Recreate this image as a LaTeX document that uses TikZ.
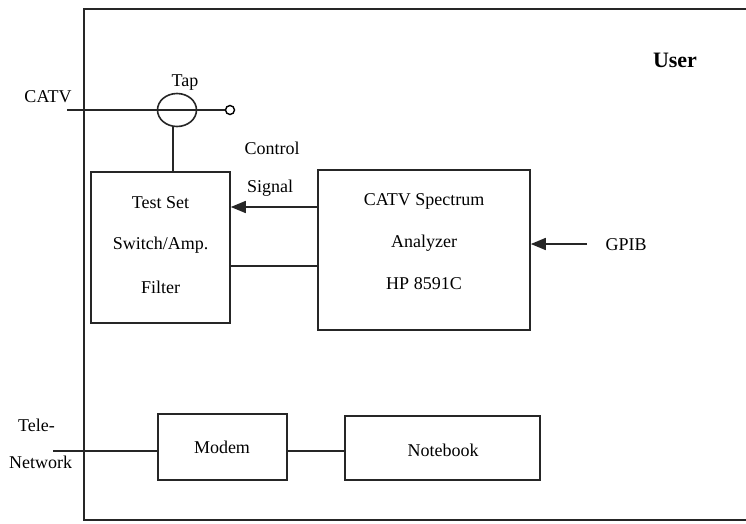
\documentclass[tikz,border=0pt]{standalone}
\usepackage{fontspec}
\setmainfont{Liberation Serif}
\usetikzlibrary{arrows.meta,shapes.geometric}
\begin{document}
\begin{tikzpicture}[x=1pt,y=-1pt,
  line/.style={line width=1.6pt,black!85},
  blockbox/.style={draw,line width=1.6pt,black!85,rectangle,inner sep=0pt},
  lbl/.style={font=\fontsize{18}{20}\selectfont,inner sep=0pt},
  arr/.style={line/.try,-{Triangle[length=15pt,width=12pt]}}]
\useasboundingbox (0,0) rectangle (746,523);
% frame
\draw[line] (746,9) -- (84,9) -- (84,520) -- (746,520);
% tap
\node[draw,line width=1.6pt,black!85,ellipse,minimum width=39pt,minimum height=33pt,inner sep=0pt] (tap) at (177,110) {};
\node[draw,line width=1.4pt,circle,minimum size=9pt,inner sep=0pt,fill=white] (term) at (230,110) {};
\coordinate (catvin) at (67,110);
\draw[line] (catvin) -- (term.west);
\node[lbl] (catv) at (48,97) {CATV};
\node[lbl] (taplbl) at (185,83) {Tap};
% boxes
\node[blockbox,minimum width=139pt,minimum height=151pt] (test) at (160.5,247.5) {};
\node[lbl] (t1) at (160.5,203) {Test Set};
\node[lbl] (t2) at (160.5,245) {Switch/Amp.};
\node[lbl] (t3) at (160.5,287) {Filter};
\node[blockbox,minimum width=212pt,minimum height=160pt] (sa) at (424,250) {};
\node[lbl] (s1) at (424,201) {CATV Spectrum};
\node[lbl] (s2) at (424,243) {Analyzer};
\node[lbl] (s3) at (424,284) {HP 8591C};
\coordinate (tb) at (173,126);
\draw[line] (tb) -- (test.north -| tb);
% control signal
\node[lbl] (ctl) at (272,148) {Control};
\node[lbl] (sig) at (270,188) {Signal};
\draw[arr] (sa.west |- 0,207) -- (test.east |- 0,207);
\draw[line] (test.east |- 0,266) -- (sa.west |- 0,266);
% GPIB
\node[lbl] (gpib) at (626,245) {GPIB};
\coordinate (gpibs) at (587,244);
\draw[arr] (gpibs) -- (sa.east |- gpibs);
\node[lbl,font=\bfseries\fontsize{22}{24}\selectfont] (user) at (675,60) {User};
% modem / notebook
\node[blockbox,minimum width=129pt,minimum height=66pt] (modem) at (222.5,447) {};
\node[lbl] (m) at (222,447) {Modem};
\node[blockbox,minimum width=195pt,minimum height=64pt] (nb) at (442.5,448) {};
\node[lbl] (n) at (443,450) {Notebook};
\coordinate (telin) at (53,451);
\draw[line] (telin) -- (modem.west |- telin);
\draw[line] (modem.east |- 0,451) -- (nb.west |- 0,451);
\node[lbl,anchor=west] (tele) at (18,425) {Tele-};
\node[lbl,anchor=west] (netw) at (9,462) {Network};
\end{tikzpicture}
\end{document}
